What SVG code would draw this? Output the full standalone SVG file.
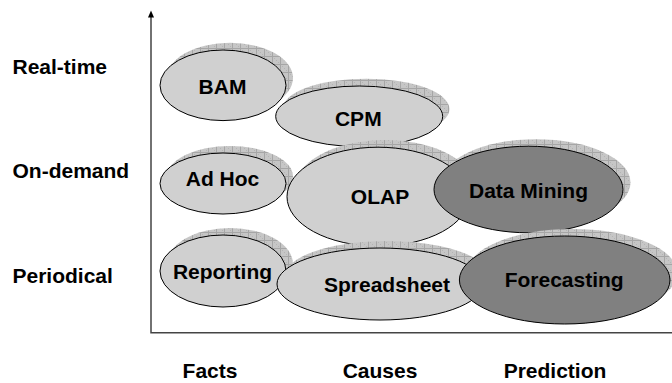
<svg xmlns="http://www.w3.org/2000/svg" width="672" height="383" viewBox="0 0 672 383">
  <defs>
    <!-- hatched drop-shadow texture -->
    <pattern id="hatch" width="8" height="8" patternUnits="userSpaceOnUse">
      <rect width="8" height="8" fill="#c6c6c6"/>
      <rect x="0" y="0" width="1" height="1" fill="#b4b4b4"/>
      <rect x="2" y="2" width="1" height="1" fill="#b4b4b4"/>
      <rect x="4" y="4" width="1" height="1" fill="#b4b4b4"/>
      <rect x="6" y="6" width="1" height="1" fill="#b4b4b4"/>
      <path d="M0 0.5H8M0.5 0V8" stroke="#a6a6a6" stroke-width="1"/>
    </pattern>
    <marker id="arrow" markerWidth="6" markerHeight="7" refX="3" refY="0" orient="auto-start-reverse" markerUnits="userSpaceOnUse" viewBox="0 0 6 7">
      <path d="M0 7L3 0L6 7Z" fill="#000"/>
    </marker>
  </defs>
  <style>
    .shadow { fill: url(#hatch); }
    .light { fill: #d0d0d0; stroke: #000; stroke-width: 1; }
    .dark { fill: #808080; stroke: #000; stroke-width: 1; }
    .label { font-family: "Liberation Sans", Arial, sans-serif; font-weight: bold; font-size: 21px; fill: #000; text-anchor: middle; }
    .axislabel { font-family: "Liberation Sans", Arial, sans-serif; font-weight: bold; font-size: 21px; fill: #000; }
    .axis { stroke: #444; stroke-width: 1.5; fill: none; }
  </style>
  <rect width="672" height="383" fill="#fff"/>

  <!-- axes -->
  <g id="axes">
    <path class="axis" d="M151 17V332.7H672"/>
    <path d="M148 17.5L151 10.5L154 17.5Z" fill="#000"/>
  </g>

  <!-- row labels -->
  <g id="row-labels">
    <text class="axislabel" x="12.5" y="74">Real-time</text>
    <text class="axislabel" x="12.5" y="178.3">On-demand</text>
    <text class="axislabel" x="12.5" y="283">Periodical</text>
  </g>

  <!-- column labels -->
  <g id="column-labels">
    <text class="label" x="210" y="378">Facts</text>
    <text class="label" x="380" y="378">Causes</text>
    <text class="label" x="555" y="378">Prediction</text>
  </g>

  <g id="bam">
    <ellipse class="shadow" cx="230" cy="78" rx="63" ry="35.3"/>
    <ellipse class="light" cx="223" cy="85.3" rx="63" ry="35.3"/>
    <text class="label" x="222.5" y="94">BAM</text>
  </g>

  <g id="cpm">
    <ellipse class="shadow" cx="366" cy="109" rx="83.5" ry="30.3"/>
    <ellipse class="light" cx="359.2" cy="116.3" rx="83.5" ry="30.3"/>
    <text class="label" x="358.3" y="126">CPM</text>
  </g>

  <g id="adhoc">
    <ellipse class="shadow" cx="230" cy="176.5" rx="63" ry="30.5"/>
    <ellipse class="light" cx="223" cy="183.5" rx="63" ry="30.5"/>
    <text class="label" x="222.5" y="185.7">Ad Hoc</text>
  </g>

  <g id="olap">
    <ellipse class="shadow" cx="385" cy="189.5" rx="91" ry="49.5"/>
    <ellipse class="light" cx="378" cy="196.7" rx="91" ry="49.5"/>
    <text class="label" x="380" y="204.3">OLAP</text>
  </g>

  <g id="data-mining">
    <ellipse class="shadow" cx="536" cy="182.5" rx="94.5" ry="43.3"/>
    <ellipse class="dark" cx="528.5" cy="189.5" rx="94.5" ry="43.3"/>
    <text class="label" x="528.5" y="198.3">Data Mining</text>
  </g>

  <g id="reporting">
    <ellipse class="shadow" cx="230" cy="264" rx="63" ry="36"/>
    <ellipse class="light" cx="223" cy="271" rx="63" ry="36"/>
    <text class="label" x="222.5" y="278.5">Reporting</text>
  </g>

  <g id="spreadsheet">
    <ellipse class="shadow" cx="387" cy="277" rx="103" ry="36"/>
    <ellipse class="light" cx="380" cy="284" rx="103" ry="36"/>
    <text class="label" x="387" y="291.7">Spreadsheet</text>
  </g>

  <g id="forecasting">
    <ellipse class="shadow" cx="572" cy="273" rx="105.3" ry="44"/>
    <ellipse class="dark" cx="564.7" cy="280" rx="105.3" ry="44"/>
    <text class="label" x="564.2" y="286.7">Forecasting</text>
  </g>
</svg>
